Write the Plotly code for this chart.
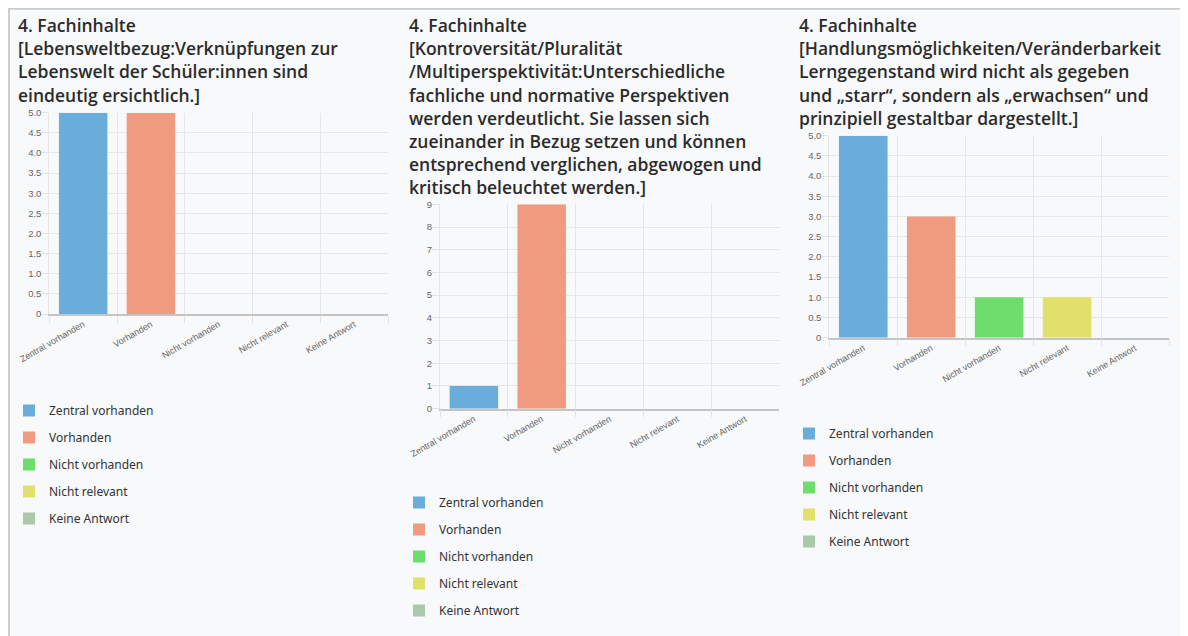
import plotly.graph_objects as go

# ---------------- data ----------------
categories = ["Zentral vorhanden", "Vorhanden", "Nicht vorhanden", "Nicht relevant", "Keine Antwort"]
colors = ["#69aedb", "#f09a7f", "#6ddd6d", "#e1e06a", "#a9c9a9"]

values_1 = [5, 5, 0, 0, 0]
values_2 = [1, 9, 0, 0, 0]
values_3 = [5, 3, 1, 1, 0]

title_1 = ["4. Fachinhalte",
           "[Lebensweltbezug:Verknüpfungen zur",
           "Lebenswelt der Schüler:innen sind",
           "eindeutig ersichtlich.]"]
title_2 = ["4. Fachinhalte",
           "[Kontroversität/Pluralität",
           "/Multiperspektivität:Unterschiedliche",
           "fachliche und normative Perspektiven",
           "werden verdeutlicht. Sie lassen sich",
           "zueinander in Bezug setzen und können",
           "entsprechend verglichen, abgewogen und",
           "kritisch beleuchtet werden.]"]
title_3 = ["4. Fachinhalte",
           "[Handlungsmöglichkeiten/Veränderbarkeit",
           "Lerngegenstand wird nicht als gegeben",
           "und „starr“, sondern als „erwachsen“ und",
           "prinzipiell gestaltbar dargestellt.]"]

ytick_vals_5 = [0, 0.5, 1, 1.5, 2, 2.5, 3, 3.5, 4, 4.5, 5]
ytick_text_5 = ["0", "0.5", "1.0", "1.5", "2.0", "2.5", "3.0", "3.5", "4.0", "4.5", "5.0"]
ytick_vals_9 = [0, 1, 2, 3, 4, 5, 6, 7, 8, 9]
ytick_text_9 = ["0", "1", "2", "3", "4", "5", "6", "7", "8", "9"]

# ---------------- layout helpers ----------------
# The page body has an 8px margin, so the figure starts 8px right/down of the window corner.
OFF = 8
W, H = 1180, 628


def px(x):
    return (x - OFF) / W


def py(y):
    return 1 - (y - OFF) / H


panels = [
    dict(values=values_1, title=title_1, tx=15.5, ty=25,
         xd=(49.3, 388.0), yd=(112.7, 314.0), yr=5, tv=ytick_vals_5, tt=ytick_text_5,
         lx=9, ly=396),
    dict(values=values_2, title=title_2, tx=406.5, ty=25,
         xd=(440.0, 779.0), yd=(204.3, 408.7), yr=9, tv=ytick_vals_9, tt=ytick_text_9,
         lx=399, ly=488),
    dict(values=values_3, title=title_3, tx=796.5, ty=25,
         xd=(829.3, 1169.0), yd=(135.7, 337.7), yr=5, tv=ytick_vals_5, tt=ytick_text_5,
         lx=789, ly=419),
]

fig = go.Figure()
annotations = []
layout = {}
LINE = 23.2

for i, p in enumerate(panels):
    n = i + 1
    xa = "x" if n == 1 else f"x{n}"
    ya = "y" if n == 1 else f"y{n}"
    leg = "legend" if n == 1 else f"legend{n}"
    for c, (cat, val, col) in enumerate(zip(categories, p["values"], colors)):
        fig.add_trace(go.Bar(
            x=[cat], y=[val], name=cat, marker=dict(color=col, line=dict(width=0)),
            xaxis=xa, yaxis=ya, legend=leg, legendgroup=f"p{n}_{c}",
            hoverinfo="x+y",
        ))
    xkey = "xaxis" if n == 1 else f"xaxis{n}"
    ykey = "yaxis" if n == 1 else f"yaxis{n}"
    layout[xkey] = dict(
        domain=[px(p["xd"][0]), px(p["xd"][1])], anchor=ya, automargin=False,
        type="category", categoryorder="array", categoryarray=categories,
        range=[-0.5, 4.5], tickson="boundaries", ticks="outside", ticklen=7,
        tickcolor="#e3e3e3", showgrid=True, gridcolor="#e6e6e6", gridwidth=1,
        showline=True, linecolor="#c4c4c4", linewidth=1.5,
        tickangle=-30, tickfont=dict(family="Liberation Sans", size=9, color="#666666"),
        fixedrange=True, zeroline=False,
    )
    layout[ykey] = dict(
        domain=[py(p["yd"][1]), py(p["yd"][0])], anchor=xa, automargin=False,
        range=[0, p["yr"]], tickmode="array", tickvals=p["tv"], ticktext=p["tt"],
        ticks="outside", ticklen=7, tickcolor="#e3e3e3", ticklabelstandoff=-2,
        showgrid=True, gridcolor="#e6e6e6", gridwidth=1,
        showline=True, linecolor="#e6e6e6", linewidth=1, zeroline=False,
        tickfont=dict(family="Liberation Sans", size=9.5, color="#666666"),
        fixedrange=True,
    )
    layout[leg] = dict(
        x=px(p["lx"]), y=py(p["ly"]), xanchor="left", yanchor="top",
        bgcolor="rgba(0,0,0,0)", borderwidth=0,
        font=dict(family="Noto Sans", size=12, color="#333333"),
        tracegroupgap=8, traceorder="grouped",
    )
    for j, line in enumerate(p["title"]):
        annotations.append(dict(
            text=line, x=px(p["tx"]), y=py(p["ty"] + LINE * j), xref="paper", yref="paper",
            xanchor="left", yanchor="middle", showarrow=False, align="left",
            font=dict(family="Open Sans, Noto Sans", size=17.5, weight=600, color="#2b2b2b"),
        ))

shapes = [
    dict(type="line", xref="paper", yref="paper", x0=0.0008, x1=0.0008, y0=0, y1=1,
         line=dict(color="#cccccc", width=2)),
    dict(type="line", xref="paper", yref="paper", x0=0, x1=1, y0=0.9987, y1=0.9987,
         line=dict(color="#cccccc", width=2)),
    dict(type="line", xref="paper", yref="paper", x0=px(1186.5), x1=px(1186.5), y0=py(167), y1=py(307),
         line=dict(color="#c4c4c4", width=2)),
]

fig.update_layout(
    width=W, height=H, margin=dict(l=0, r=0, t=0, b=0, pad=0, autoexpand=False),
    paper_bgcolor="#f8f9fa", plot_bgcolor="rgba(0,0,0,0)",
    barmode="overlay", bargap=0.285, showlegend=True,
    annotations=annotations, shapes=shapes, **layout,
)

fig.write_html("out.html")
